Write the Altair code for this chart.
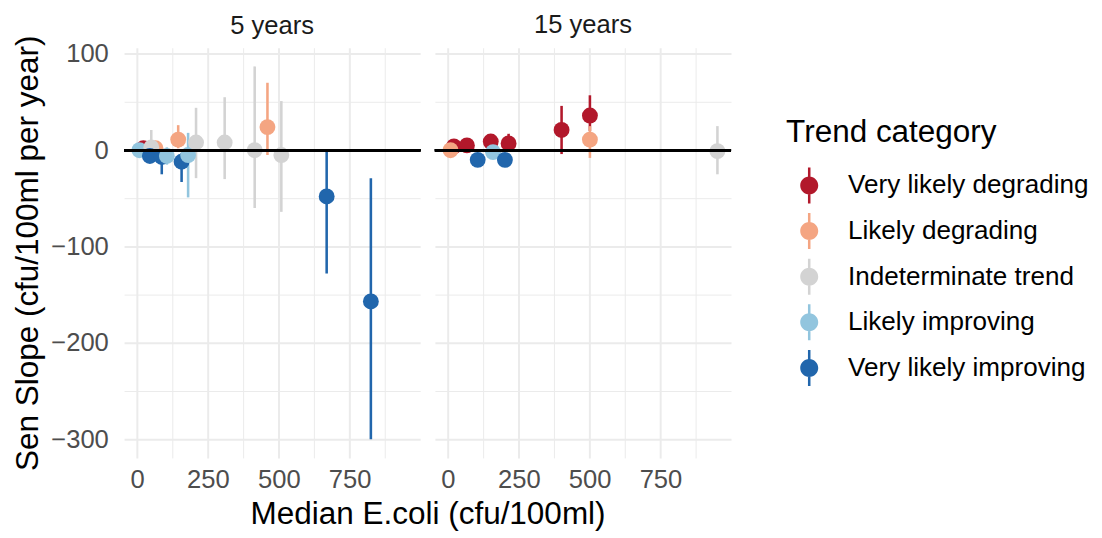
import altair as alt
import pandas as pd

categories = ["Very likely degrading", "Likely degrading", "Indeterminate trend",
              "Likely improving", "Very likely improving"]
colors = ["#B2182B", "#F4A582", "#D3D3D3", "#92C5DE", "#2166AC"]

# 5 years panel
p5_median = [22, 8, 65, 50, 45, 87, 105, 145, 157, 180, 208, 309, 415, 460, 509, 669, 825]
p5_slope  = [2, 0, 2, 3, -6, -7, -6, 11, -12, -5, 8, 8, 0, 24, -5, -48, -157]
p5_lo     = [-1, -3, -3, -5, -10, -25, -15, 2, -33, -49, -29, -30, -60, -5, -64, -128, -300]
p5_hi     = [5, 3, 8, 21, -1, -2, 3, 26, -3, 18, 44, 55, 87, 70, 51, 0, -29]
p5_cat    = [0, 3, 1, 2, 4, 4, 3, 1, 4, 3, 2, 2, 2, 1, 2, 4, 4]

# 15 years panel
p15_median = [21, 9, 67, 105, 151, 159, 201, 214, 401, 501, 501, 951]
p15_slope  = [4, 0, 5, -10, 9, -2, -10, 7, 21, 36, 11, -1]
p15_lo     = [0, -2, 1, -13, 4, -5, -13, 1, -4, 20, -8, -25]
p15_hi     = [8, 2, 9, -7, 14, 1, -7, 17, 46, 57, 25, 25]
p15_cat    = [0, 1, 0, 4, 0, 3, 4, 0, 0, 0, 1, 2]

panels = ["5 years", "15 years"]

rows = []
for m, s, lo, hi, c in zip(p5_median, p5_slope, p5_lo, p5_hi, p5_cat):
    rows.append(dict(panel=panels[0], median=m, slope=s, lo=lo, hi=hi, cat=categories[c]))
for m, s, lo, hi, c in zip(p15_median, p15_slope, p15_lo, p15_hi, p15_cat):
    rows.append(dict(panel=panels[1], median=m, slope=s, lo=lo, hi=hi, cat=categories[c]))
df = pd.DataFrame(rows)

FONT = "Liberation Sans"
W, H, GAP = 301, 417, 15
legend_path = ("M-0.07,-1 L0.07,-1 L0.07,-0.4 L-0.07,-0.4 Z "
               "M-0.07,0.4 L0.07,0.4 L0.07,1 L-0.07,1 Z "
               "M-0.5,0 A0.5,0.5 0 1,1 0.5,0 A0.5,0.5 0 1,1 -0.5,0 Z")

color = alt.Color(
    "cat:N",
    scale=alt.Scale(domain=categories, range=colors),
    legend=alt.Legend(title="Trend category", symbolType=legend_path, symbolSize=1340,
                      symbolStrokeWidth=0, symbolOpacity=1, labelLimit=400, titleLimit=400,
                      titleFontSize=32, titleFont=FONT, titleFontWeight="normal",
                      titleColor="#000000", labelFontSize=26.5, labelFont=FONT,
                      labelColor="#000000", rowPadding=9.4, labelOffset=21, symbolOffset=5,
                      titlePadding=19, orient="none", legendX=673, legendY=70.5),
)

x_scale = alt.Scale(domain=[-46, 999], nice=False, zero=False)
y_scale = alt.Scale(domain=[-319.4, 106.4], nice=False, zero=False)
x_values = [0, 125, 250, 375, 500, 625, 750, 875]
y_values = [-300, -250, -200, -150, -100, -50, 0, 50, 100]
x_grid_w = {"condition": {"test": "datum.value % 250 === 0", "value": 2}, "value": 1}
y_grid_w = {"condition": {"test": "datum.value % 100 === 0", "value": 2}, "value": 1}


def panel(name, first):
    if first:
        x_axis = alt.Axis(title="Median E.coli (cfu/100ml)", values=x_values,
                          labelExpr="datum.value % 250 === 0 ? toString(datum.value) : ''",
                          gridWidth=x_grid_w, titleX=W + GAP / 2, titleAlign="center")
        y_axis = alt.Axis(title="Sen Slope (cfu/100ml per year)", values=y_values,
                          labelExpr="datum.value % 100 === 0 ? replace(toString(datum.value), '-', '\u2212') : ''",
                          gridWidth=y_grid_w)
        t_off = -4.3
    else:
        x_axis = alt.Axis(title="", values=x_values,
                          labelExpr="datum.value % 250 === 0 ? toString(datum.value) : ''",
                          gridWidth=x_grid_w)
        y_axis = alt.Axis(title="", values=y_values, labels=False, gridWidth=y_grid_w)
        t_off = 9.7

    base = alt.Chart(df).transform_filter(alt.datum.panel == name)
    rules = base.mark_rule(strokeWidth=2.6).encode(
        x=alt.X("median:Q", scale=x_scale, axis=x_axis),
        y=alt.Y("lo:Q", scale=y_scale, axis=y_axis),
        y2="hi:Q",
        color=color,
    )
    points = base.mark_point(filled=True, size=260, opacity=1).encode(
        x=alt.X("median:Q", scale=x_scale, axis=x_axis),
        y=alt.Y("slope:Q", scale=y_scale, axis=y_axis),
        color=color,
    )
    zero = base.mark_rule(color="black", strokeWidth=2.4).encode(
        y=alt.datum(0, scale=y_scale))
    return alt.layer(rules, points, zero).properties(
        width=W, height=H,
        title=alt.TitleParams(name, fontSize=26, font=FONT, fontWeight="normal",
                              color="#1A1A1A", anchor="middle", offset=t_off),
    )


chart = alt.hconcat(panel(panels[0], True), panel(panels[1], False),
                    spacing=GAP, bounds="flush").properties(
    padding={"left": 4, "top": 0, "right": 5, "bottom": 0},
).configure_view(stroke=None).configure_axis(
    domain=False, ticks=False, tickSize=0, gridColor="#EBEBEB",
    labelFont=FONT, labelFontSize=26, labelColor="#4D4D4D",
    titleFont=FONT, titleFontSize=32, titleFontWeight="normal", titleColor="#000000",
).configure_axisX(labelPadding=9, titlePadding=7).configure_axisY(labelPadding=16, titlePadding=6)

chart.save("out.html", embed_options={"renderer": "svg", "actions": False})
